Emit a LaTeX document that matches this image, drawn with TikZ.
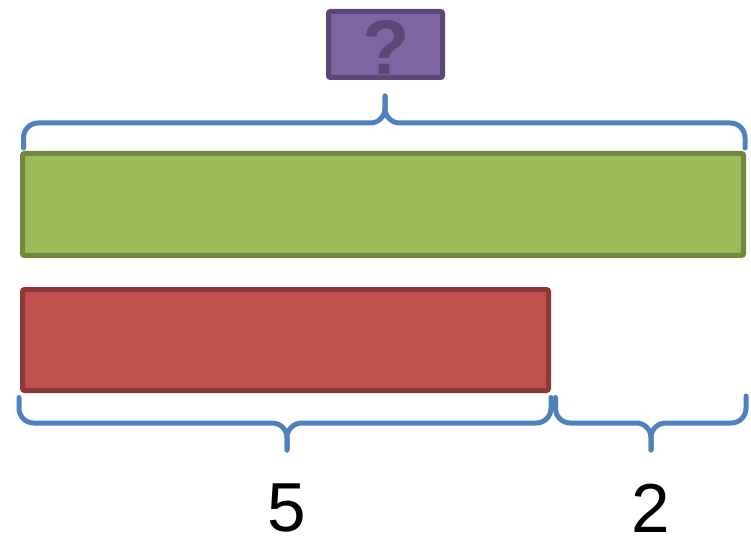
\documentclass[tikz,border=0pt]{standalone}
\usepackage{fontspec}
\setmainfont{Liberation Sans}
\usetikzlibrary{positioning, calc}

\definecolor{barGreen}{HTML}{9BBB59}
\definecolor{barGreenDark}{HTML}{71893F}
\definecolor{barRed}{HTML}{C0504D}
\definecolor{barRedDark}{HTML}{8C3836}
\definecolor{boxPurple}{HTML}{8064A2}
\definecolor{boxPurpleDark}{HTML}{5C4776}
\definecolor{braceBlue}{HTML}{4F81BD}

\begin{document}
\begin{tikzpicture}[
    x=0.75pt, y=-0.75pt,
    bar/.style={rectangle, draw, line width=3.75pt, rounded corners=1.5pt, inner sep=0pt},
    whole/.style={bar, fill=barGreen, draw=barGreenDark,
                  minimum width=540.75pt, minimum height=76.5pt},
    part/.style={bar, fill=barRed, draw=barRedDark,
                 minimum width=394.5pt, minimum height=75.75pt},
    unknown/.style={bar, fill=boxPurple, draw=boxPurpleDark,
                    minimum width=85.5pt, minimum height=49.5pt},
    qmark/.style={font=\fontsize{58}{58}\selectfont\bfseries, text=boxPurpleDark, inner sep=0pt},
    brace/.style={draw=braceBlue, line width=3.75pt, line cap=round, rounded corners=11pt},
    num/.style={font=\fontsize{52}{52}\selectfont, inner sep=0pt},
]
\useasboundingbox (0,0) rectangle (751,542);

% === Bars ===
\node[whole] (total) at (383,204.5) {};
\node[part] (known) at (285.5,340) {};

% === Unknown total ===
\node[unknown] (ask) at (385.5,44.5) {};
\node[qmark] (ask-mark) at (386,48) {?};

% brace over the whole bar
\coordinate (mid-top) at (385,123);
\coordinate (tip-top) at (385,96);
\draw[brace] ($(total.north west)+(3.5,-3)$) |- (mid-top) -- (tip-top);
\draw[brace] ($(total.north east)+(-1,-3)$) |- (mid-top) -- (tip-top);

% === Known part: 5 ===
\coordinate (mid-five) at (287,423);
\coordinate (tip-five) at (287,450);
\draw[brace] ($(known.south west)+(-1,4.5)$) |- (mid-five) -- (tip-five);
\draw[brace] ($(known.south east)+(0,4.5)$) |- (mid-five) -- (tip-five);
\node[num] (five) at (287,508) {5};

% === Remaining part: 2 ===
\coordinate (mid-two) at (651,423);
\coordinate (tip-two) at (651,450);
\draw[brace] ($(known.south east)+(4.5,4.5)$) |- (mid-two) -- (tip-two);
\draw[brace] ($(total.east |- known.south)+(0,3)$) |- (mid-two) -- (tip-two);
\node[num] (two) at (651,508) {2};

\end{tikzpicture}
\end{document}
